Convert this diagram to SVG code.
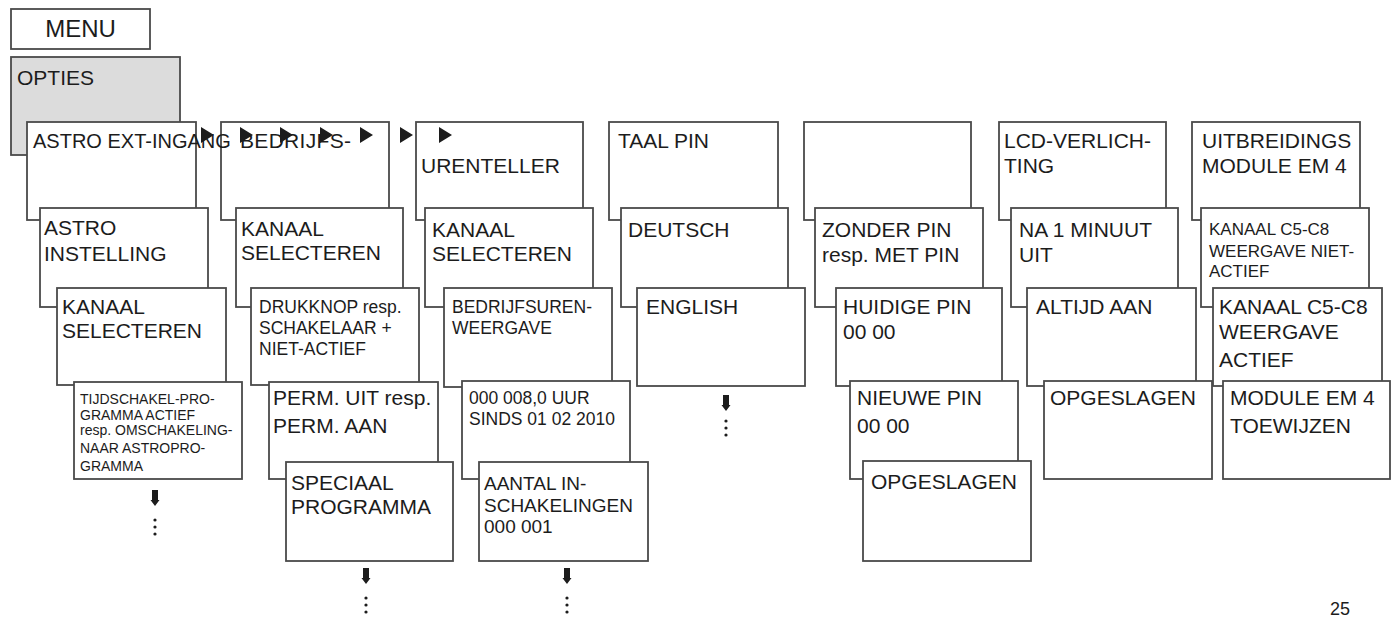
<svg xmlns="http://www.w3.org/2000/svg" width="1395" height="617" viewBox="0 0 1395 617">
<style>
.b{fill:#fff;stroke:#4a4a4a;stroke-width:1.8}
.g{fill:#dcdcdc;stroke:#4a4a4a;stroke-width:1.8}
text{font-family:"Liberation Sans",Arial,sans-serif;fill:#1c1c1c}
.t{font-size:21px}
.s{font-size:17.5px}
.x{font-size:14px}
.m{font-size:19px}
.a{fill:#1c1c1c}
</style>
<rect width="1395" height="617" fill="#fff"/>
<g id="menu"><rect class="b" x="11" y="9" width="139" height="40"/><text x="80.5" y="37" font-size="24" text-anchor="middle">MENU</text></g>
<g id="opties"><rect class="g" x="11" y="57" width="169" height="98"/><text class="t" x="17" y="85">OPTIES</text></g>

<g id="c2l1"><rect class="b" x="221" y="122" width="168" height="98"/><text class="t" x="240" y="148" textLength="111">BEDRIJFS-</text></g>
<g id="c1l1"><rect class="b" x="27" y="122" width="169" height="98"/><text x="33" y="148" font-size="20">ASTRO EXT-INGANG</text></g>
<g id="c1l2"><rect class="b" x="40" y="208" width="168" height="99"/><text class="t" x="44" y="235">ASTRO</text><text class="t" x="44" y="261">INSTELLING</text></g>
<g id="c1l3"><rect class="b" x="57" y="288" width="169" height="97"/><text class="t" x="62" y="314">KANAAL</text><text class="t" x="62" y="338">SELECTEREN</text></g>
<g id="c1l4"><rect class="b" x="74" y="382" width="168" height="97"/><text class="x" x="80" y="404">TIJDSCHAKEL-PRO-</text><text class="x" x="80" y="420">GRAMMA ACTIEF</text><text class="x" x="80" y="435">resp. OMSCHAKELING-</text><text class="x" x="80" y="453">NAAR ASTROPRO-</text><text class="x" x="80" y="471">GRAMMA</text></g>

<g id="c2l2"><rect class="b" x="236" y="208" width="167" height="99"/><text class="t" x="241" y="236">KANAAL</text><text class="t" x="241" y="260">SELECTEREN</text></g>
<g id="c2l3"><rect class="b" x="251" y="288" width="168" height="97"/><text class="s" x="259" y="313">DRUKKNOP resp.</text><text class="s" x="259" y="334">SCHAKELAAR +</text><text class="s" x="259" y="355">NIET-ACTIEF</text></g>
<g id="c2l4"><rect class="b" x="269" y="382" width="169" height="97"/><text class="t" x="273" y="405">PERM. UIT resp.</text><text class="t" x="273" y="433">PERM. AAN</text></g>
<g id="c2l5"><rect class="b" x="286" y="462" width="167" height="99"/><text class="t" x="291" y="490">SPECIAAL</text><text class="t" x="291" y="514">PROGRAMMA</text></g>

<g id="c3l1"><rect class="b" x="416" y="122" width="167" height="98"/><text class="t" x="421" y="173">URENTELLER</text></g>
<g id="c3l2"><rect class="b" x="425" y="208" width="168" height="99"/><text class="t" x="432" y="237">KANAAL</text><text class="t" x="432" y="261">SELECTEREN</text></g>
<g id="c3l3"><rect class="b" x="444" y="288" width="168" height="99"/><text class="s" x="452" y="313">BEDRIJFSUREN-</text><text class="s" x="452" y="334">WEERGAVE</text></g>
<g id="c3l4"><rect class="b" x="462" y="381" width="168" height="98"/><text class="s" x="469" y="404">000 008,0 UUR</text><text class="s" x="469" y="425">SINDS 01 02 2010</text></g>
<g id="c3l5"><rect class="b" x="479" y="462" width="169" height="99"/><text class="m" x="484" y="490">AANTAL IN-</text><text class="m" x="484" y="512">SCHAKELINGEN</text><text class="m" x="484" y="533">000 001</text></g>

<g id="c4l1"><rect class="b" x="609" y="122" width="169" height="98"/><text class="t" x="618" y="148">TAAL PIN</text></g>
<g id="c4l2"><rect class="b" x="621" y="208" width="167" height="99"/><text class="t" x="628" y="237">DEUTSCH</text></g>
<g id="c4l3"><rect class="b" x="637" y="288" width="168" height="98"/><text class="t" x="646" y="314">ENGLISH</text></g>

<g id="c5l1"><rect class="b" x="804" y="122" width="167" height="98"/></g>
<g id="c5l2"><rect class="b" x="815" y="208" width="168" height="99"/><text class="t" x="822" y="237">ZONDER PIN</text><text class="t" x="822" y="262">resp. MET PIN</text></g>
<g id="c5l3"><rect class="b" x="836" y="288" width="166" height="98"/><text class="t" x="843" y="314">HUIDIGE PIN</text><text class="t" x="843" y="339">00 00</text></g>
<g id="c5l4"><rect class="b" x="850" y="381" width="168" height="98"/><text class="t" x="857" y="405">NIEUWE PIN</text><text class="t" x="857" y="433">00 00</text></g>
<g id="c5l5"><rect class="b" x="863" y="461" width="168" height="100"/><text class="t" x="871" y="489">OPGESLAGEN</text></g>

<g id="c6l1"><rect class="b" x="999" y="122" width="167" height="98"/><text class="t" x="1004" y="148">LCD-VERLICH-</text><text class="t" x="1004" y="173">TING</text></g>
<g id="c6l2"><rect class="b" x="1011" y="208" width="167" height="99"/><text class="t" x="1019" y="237">NA 1 MINUUT</text><text class="t" x="1019" y="262">UIT</text></g>
<g id="c6l3"><rect class="b" x="1027" y="288" width="169" height="98"/><text class="t" x="1036" y="314">ALTIJD AAN</text></g>
<g id="c6l4"><rect class="b" x="1044" y="381" width="168" height="98"/><text class="t" x="1050" y="405">OPGESLAGEN</text></g>

<g id="c7l1"><rect class="b" x="1192" y="122" width="168" height="98"/><text class="t" x="1202" y="148">UITBREIDINGS</text><text class="t" x="1202" y="173">MODULE EM 4</text></g>
<g id="c7l2"><rect class="b" x="1201" y="208" width="168" height="99"/><text font-size="17" x="1209" y="235">KANAAL C5-C8</text><text font-size="17" x="1209" y="257">WEERGAVE NIET-</text><text font-size="17" x="1209" y="277">ACTIEF</text></g>
<g id="c7l3"><rect class="b" x="1213" y="288" width="169" height="98"/><text class="t" x="1219" y="314">KANAAL C5-C8</text><text class="t" x="1219" y="339">WEERGAVE</text><text class="t" x="1219" y="367">ACTIEF</text></g>
<g id="c7l4"><rect class="b" x="1223" y="381" width="167" height="98"/><text class="t" x="1230" y="405">MODULE EM 4</text><text class="t" x="1230" y="433">TOEWIJZEN</text></g>

<g id="connectors">
<defs>
<path id="tri" d="M0,-8 L13,0 L0,8 Z"/>
<path id="dn" d="M-3,0 H3 V10 H4.5 L0,16 L-4.5,10 H-3 Z"/>
<g id="dots"><circle cx="0" cy="0" r="1.6"/><circle cx="0" cy="7" r="1.6"/><circle cx="0" cy="14" r="1.6"/></g>
</defs>
<g class="a">
<use href="#tri" x="201" y="135"/>
<use href="#tri" x="240" y="135"/>
<use href="#tri" x="280" y="135"/>
<use href="#tri" x="320" y="135"/>
<use href="#tri" x="360" y="135"/>
<use href="#tri" x="400" y="135"/>
<use href="#tri" x="439" y="135"/>
<use href="#dn" x="155" y="490"/>
<use href="#dots" x="155" y="520"/>
<use href="#dn" x="366" y="568"/>
<use href="#dots" x="366" y="598"/>
<use href="#dn" x="567" y="568"/>
<use href="#dots" x="567" y="598"/>
<use href="#dn" x="726" y="395"/>
<use href="#dots" x="726" y="421"/>
</g>
</g>
<text x="1330" y="615" font-size="18">25</text>
</svg>
